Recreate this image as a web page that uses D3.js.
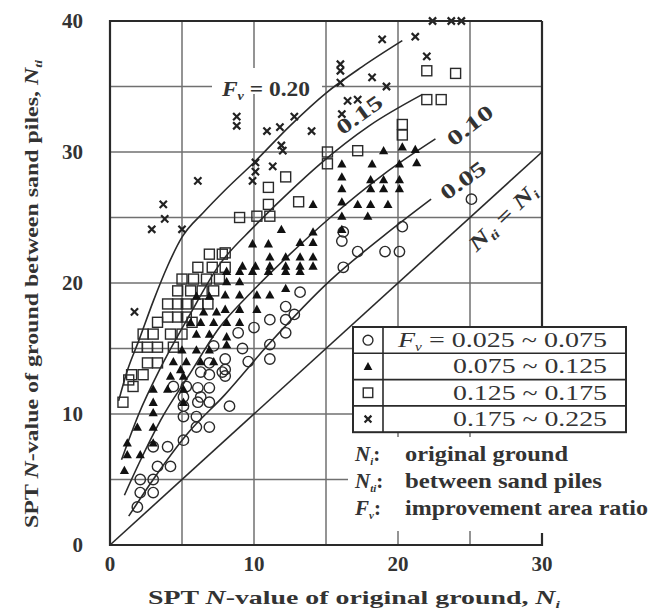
<!DOCTYPE html>
<html>
<head>
<meta charset="utf-8">
<script src="https://cdn.jsdelivr.net/npm/d3@7"></script>
<style>
  body { margin: 0; background: #fff; }
  svg { display: block; font-family: "Liberation Serif", "DejaVu Serif", serif; }
</style>
</head>
<body>
<div id="chart"></div>
<script>
// tick labels
var xTicks = [0, 10, 20, 30];
var yTicks = [0, 10, 20, 30, 40];
var gridStep = 5;

// legend rows
var legendLabels = ['0.025 ~ 0.075', '0.075 ~ 0.125', '0.125 ~ 0.175', '0.175 ~ 0.225'];
var legendSymbols = ['circle', 'triangle', 'square', 'cross'];

// points [N_i, N_ti]
var circles = [
    [25.1, 26.4], [20.3, 24.3], [19.1, 22.4], [20.1, 22.4], [16.2, 23.9], [16.1, 23.2],
    [17.2, 22.4], [16.2, 21.2], [13.2, 19.3], [12.2, 18.2], [12.2, 17.2], [12.2, 16.2],
    [11.1, 17.2], [11.1, 15.3], [11.1, 14.2], [8, 14.2], [8, 13.4], [8, 12.9],
    [6.9, 13.9], [6.9, 13], [7.8, 13.2], [6.1, 12], [6.9, 12], [6.1, 10.9], [6.9, 10.9],
    [6.3, 13.2], [4.4, 12.1], [5.3, 12.1], [5.1, 11.3], [6.3, 11.3], [5.1, 10.6],
    [8.3, 10.6], [5.1, 9.8], [6, 9.8], [6, 9], [6.9, 9], [5.1, 8], [3, 7.5], [4, 7.5],
    [3.3, 6], [4.2, 6], [2.1, 5], [3, 5], [2.1, 4], [3, 4], [1.9, 2.9],
    [7.2, 15.2], [8.9, 16.2], [9.2, 15], [10, 16.6], [12.8, 17.6], [9.6, 14]
];
var triangles = [
    [19, 30.1], [20.3, 30.4], [21.2, 30.2], [21.3, 29.2], [20.1, 29.1], [18.2, 29.1],
    [18.1, 27.9], [19, 27.9], [20.1, 27.9], [16.1, 28.1], [16.1, 27.2], [18.1, 27.2],
    [19, 27.2], [20.1, 27.2], [16.1, 26.2], [17.2, 26], [18.1, 26], [19.3, 26],
    [16.1, 25.1], [17.9, 25.1], [16.1, 24.1], [16.1, 29.1], [14.1, 26],
    [11.9, 24.1], [9.9, 23], [11, 23], [13.2, 23.1], [14.1, 23.9], [14.1, 23.1],
    [11.1, 22], [12.2, 22], [13.2, 22], [14.1, 22], [9.2, 21.3], [10.1, 21.3],
    [11.1, 21.3], [12.2, 21.3], [13.2, 21.3], [14.1, 21.3],
    [8.1, 20.9], [9, 20.9], [9.9, 20.9], [11, 20.9], [12.2, 20.9], [13.2, 20.9],
    [8.1, 20.1], [9, 20.1], [8, 19.1], [9, 19.1], [10.2, 19.1], [11.1, 19.1], [12.2, 19.6],
    [8, 18], [9, 18], [10.2, 18], [8.1, 17], [9, 17], [8.1, 15.9], [8.1, 15.3],
    [6, 19], [6.9, 19], [6.5, 17.8], [7.4, 17.8], [5.6, 17], [6.3, 17], [7.2, 17],
    [6, 16.1], [6.9, 16.1], [5, 14.9], [6, 14.9], [6.9, 14.9], [4.4, 14], [5.3, 14],
    [6.3, 14], [7.2, 14], [4.9, 13.4], [4.2, 12.9], [5.1, 12.9], [3, 11.9], [4, 11.9],
    [5.1, 11.9], [3, 10.9], [5.1, 10.9], [3, 10.1], [1.9, 9], [3, 9], [1.2, 7.8],
    [3, 7.8], [1.2, 6.9], [2.1, 6.9], [1, 5.7]
];
var squares = [
    [24, 36], [22, 36.2], [22, 34], [23, 34], [20.3, 32.1], [20.3, 31.3], [17.2, 30.1],
    [15.1, 30], [15.1, 29.1], [12.2, 28.1], [11, 27.3], [11, 26], [13.1, 26.2],
    [11.1, 25.1], [10.2, 25.1], [9, 25], [8, 22.3],
    [6.9, 22.2], [7.8, 22.2], [6.1, 21.2], [7.1, 21.2], [8, 21.2], [5, 20.3], [5.8, 20.3],
    [6.7, 20.3], [7.6, 20.3], [4.7, 19.4], [5.6, 19.4], [6.4, 19.4], [7.2, 19.4],
    [4, 18.4], [4.7, 18.4], [5.3, 18.4], [6.1, 18.4], [6.8, 18.4], [4, 17.4], [4.7, 17.4],
    [5.3, 17.4], [3.3, 17], [5.7, 17], [2.3, 16.1], [3, 16.1], [4.2, 16.1], [5, 16.1],
    [1.9, 15.1], [2.6, 15.1], [3.3, 15.1], [4.4, 15.1], [2.6, 13.9], [3.3, 13.9],
    [1.5, 13], [2.3, 13], [1.6, 12.1], [0.9, 10.9], [1.3, 12.6]
];
var crosses = [
    [1.7, 17.8], [2.9, 24.1], [3.8, 24.9], [3.7, 26], [5, 24.1], [6.1, 27.8],
    [8.8, 32.7], [8.8, 32], [9.9, 27.8], [10.1, 28.5], [10.1, 29.2], [11.3, 28.9],
    [11.9, 30.5], [12, 30.1], [10.9, 31.6], [11.8, 31.9], [12.8, 32.7], [14, 31.6],
    [16, 36.7], [16, 36.2], [16, 35.3], [16.5, 33.9], [16.1, 32.9], [17.2, 34],
    [18.2, 35.7], [19.2, 35], [18.9, 38.6], [21.2, 38.8], [22, 37.3],
    [22.4, 40], [23.7, 40], [24.4, 40]
];

// design curves for each F_v
var curve020 = [[0.6, 11], [1.2, 13.3], [2, 15.6], [3, 18.6], [4, 21.3], [5, 23.5], [6.5, 25.4],
    [8, 27.1], [10, 29.2], [12.5, 32], [15, 34.5], [17.5, 36.5], [20.3, 38.5]];
var curve015 = [[0.8, 6.5], [2, 10], [3.5, 13.5], [5.5, 17.5], [7.6, 21.4], [10, 24.3],
    [12.5, 27], [14.6, 29.1], [18, 32], [21.7, 34.4]];
var curve010 = [[1, 3.8], [2, 6.2], [3.5, 9.5], [5.5, 13], [7.6, 16.6], [10, 19.5],
    [12.5, 22.2], [15.3, 25], [19, 28.3], [22.6, 31]];
var curve005 = [[1.3, 2.2], [3, 5], [5.3, 8.4], [8, 11.5], [11, 15.3], [15.3, 20.2],
    [19, 23.6], [22.3, 26.4]];
var equalLine = [[0, 0], [30, 30]];

var W = 653, H = 616;
var svg = d3.select('#chart').append('svg')
    .attr('width', W)
    .attr('height', H);

var x = d3.scaleLinear().domain([0, 30]).range([110, 542]);
var y = d3.scaleLinear().domain([0, 40]).range([545, 21]);

var ink = '#2a2a2a';
var gridCol = '#707070';
var textCol = '#333';

// grid
var g = svg.append('g');
g.selectAll('.vgrid')
    .data(d3.range(gridStep, 30, gridStep))
    .enter().append('line')
    .attr('x1', function(d) { return x(d); })
    .attr('x2', function(d) { return x(d); })
    .attr('y1', y(40))
    .attr('y2', y(0))
    .attr('stroke', gridCol)
    .attr('stroke-width', 1.5);
g.selectAll('.hgrid')
    .data(d3.range(gridStep, 40, gridStep))
    .enter().append('line')
    .attr('x1', x(0))
    .attr('x2', x(30))
    .attr('y1', function(d) { return y(d); })
    .attr('y2', function(d) { return y(d); })
    .attr('stroke', gridCol)
    .attr('stroke-width', 1.5);

// curves
var line = d3.line()
    .x(function(d) { return x(d[0]); })
    .y(function(d) { return y(d[1]); })
    .curve(d3.curveMonotoneX);
[curve020, curve015, curve010, curve005, equalLine].forEach(function(c) {
    svg.append('path')
        .attr('d', line(c))
        .attr('fill', 'none')
        .attr('stroke', ink)
        .attr('stroke-width', 1.6);
});

// markers
function drawSymbol(sel, type, cx, cy, s) {
    if (type === 'circle') {
        sel.append('circle').attr('cx', cx).attr('cy', cy).attr('r', 5.2 * s)
            .attr('fill', 'none').attr('stroke', ink).attr('stroke-width', 1.4);
    } else if (type === 'square') {
        sel.append('rect').attr('x', cx - 5 * s).attr('y', cy - 5 * s)
            .attr('width', 10 * s).attr('height', 10 * s)
            .attr('fill', 'none').attr('stroke', ink).attr('stroke-width', 1.4);
    } else if (type === 'triangle') {
        var h = 4.6 * s;
        sel.append('path')
            .attr('d', 'M' + cx + ',' + (cy - h) + 'L' + (cx + h) + ',' + (cy + h * 0.8) +
                'L' + (cx - h) + ',' + (cy + h * 0.8) + 'Z')
            .attr('fill', '#111');
    } else {
        var c = 3.6 * s;
        sel.append('path')
            .attr('d', 'M' + (cx - c) + ',' + (cy - c) + 'L' + (cx + c) + ',' + (cy + c) +
                'M' + (cx + c) + ',' + (cy - c) + 'L' + (cx - c) + ',' + (cy + c))
            .attr('stroke', '#222').attr('stroke-width', 2.2);
    }
}

var markers = svg.append('g');
[[circles, 'circle'], [squares, 'square'], [triangles, 'triangle'], [crosses, 'cross']].forEach(function(set) {
    set[0].forEach(function(d) {
        drawSymbol(markers, set[1], x(d[0]), y(d[1]), 1);
    });
});

// white area behind notes (covers grid)
svg.append('rect')
    .attr('x', 348).attr('y', 437)
    .attr('width', W - 348).attr('height', 531 - 437)
    .attr('fill', '#fff');

// frame
svg.append('path')
    .attr('d', 'M' + x(30) + ',' + y(40) + 'H' + x(0) + 'V' + y(0) + 'H' + x(30) + 'V' + (y(0) - 12))
    .attr('fill', 'none').attr('stroke', ink).attr('stroke-width', 2.2);
svg.append('line')
    .attr('x1', x(30)).attr('x2', x(30))
    .attr('y1', y(40)).attr('y2', 330)
    .attr('stroke', ink).attr('stroke-width', 2.2);

// tick labels
svg.selectAll('.xt')
    .data(xTicks).enter().append('text')
    .attr('x', function(d) { return x(d); })
    .attr('y', 571)
    .attr('text-anchor', 'middle')
    .attr('font-size', 21).attr('font-weight', 'bold').attr('fill', textCol)
    .text(function(d) { return d; });
svg.selectAll('.yt')
    .data(yTicks).enter().append('text')
    .attr('x', 83)
    .attr('y', function(d) { return y(d) + 7; })
    .attr('text-anchor', 'end')
    .attr('font-size', 21).attr('font-weight', 'bold').attr('fill', textCol)
    .text(function(d) { return d; });

// axis titles
var xt = svg.append('text')
    .attr('x', 148).attr('y', 604)
    .attr('textLength', 412).attr('lengthAdjust', 'spacingAndGlyphs')
    .attr('font-size', 19).attr('font-weight', 'bold').attr('fill', textCol);
xt.append('tspan').text('SPT ');
xt.append('tspan').attr('font-style', 'italic').text('N');
xt.append('tspan').text('-value of original ground, ');
xt.append('tspan').attr('font-style', 'italic').text('N');
xt.append('tspan').attr('font-style', 'italic').attr('font-size', 11).attr('dy', 4).text('i');

var yt = svg.append('text')
    .attr('transform', 'translate(38,528) rotate(-90)')
    .attr('textLength', 468).attr('lengthAdjust', 'spacingAndGlyphs')
    .attr('font-size', 19).attr('font-weight', 'bold').attr('fill', textCol);
yt.append('tspan').text('SPT ');
yt.append('tspan').attr('font-style', 'italic').text('N');
yt.append('tspan').text('-value of ground between sand piles, ');
yt.append('tspan').attr('font-style', 'italic').text('N');
yt.append('tspan').attr('font-style', 'italic').attr('font-size', 11).attr('dy', 4).text('ti');

// curve labels
var lab = svg.append('g');
lab.append('rect')
    .attr('x', 212).attr('y', 68).attr('width', 110).attr('height', 26)
    .attr('fill', '#fff');
var f20 = lab.append('text')
    .attr('x', 222).attr('y', y(34.3))
    .attr('textLength', 88).attr('lengthAdjust', 'spacingAndGlyphs')
    .attr('font-size', 20).attr('font-weight', 'bold').attr('fill', textCol);
f20.append('tspan').attr('font-style', 'italic').text('F');
f20.append('tspan').attr('font-style', 'italic').attr('font-size', 12).attr('dy', 4).text('v');
f20.append('tspan').attr('dy', -4).text(' = 0.20');

function rotLabel(px, py, ang, len, txt) {
    return lab.append('text')
        .attr('transform', 'translate(' + px + ',' + py + ') rotate(' + ang + ')')
        .attr('x', -len / 2)
        .attr('textLength', len).attr('lengthAdjust', 'spacingAndGlyphs')
        .attr('font-size', 21).attr('font-weight', 'bold').attr('fill', textCol)
        .text(txt);
}
rotLabel(x(17.6), y(32.4), -36, 52, '0.15');
rotLabel(x(25.3), y(31.6), -38, 53, '0.10');
rotLabel(x(24.8), y(27.4), -36, 51, '0.05');
var eq = rotLabel(x(27.6), y(24.6), -44, 86, '');
eq.append('tspan').attr('font-style', 'italic').text('N');
eq.append('tspan').attr('font-style', 'italic').attr('font-size', 12).attr('dy', 4).text('ti');
eq.append('tspan').attr('dy', -4).text(' = ');
eq.append('tspan').attr('font-style', 'italic').text('N');
eq.append('tspan').attr('font-style', 'italic').attr('font-size', 12).attr('dy', 4).text('i');

// legend
var lg = svg.append('g');
var lx0 = 353, lx1 = 626, ly0 = 327, rowH = 26.3, colX = 383;
lg.append('rect')
    .attr('x', lx0).attr('y', ly0)
    .attr('width', lx1 - lx0).attr('height', rowH * 4)
    .attr('fill', '#fff').attr('stroke', ink).attr('stroke-width', 2);
lg.selectAll('.sep')
    .data([1, 2, 3]).enter().append('line')
    .attr('x1', lx0).attr('x2', lx1)
    .attr('y1', function(d) { return ly0 + d * rowH; })
    .attr('y2', function(d) { return ly0 + d * rowH; })
    .attr('stroke', ink).attr('stroke-width', 1.6);
lg.append('line')
    .attr('x1', colX).attr('x2', colX)
    .attr('y1', ly0).attr('y2', ly0 + rowH * 4)
    .attr('stroke', ink).attr('stroke-width', 1.6);
legendLabels.forEach(function(t, i) {
    var cy = ly0 + (i + 0.5) * rowH;
    drawSymbol(lg, legendSymbols[i], (lx0 + colX) / 2, cy, 0.95);
    var tx = lg.append('text')
        .attr('y', cy + 7)
        .attr('lengthAdjust', 'spacingAndGlyphs')
        .attr('font-size', 22).attr('fill', textCol);
    if (i === 0) {
        tx.attr('x', 398).attr('textLength', 209);
        tx.append('tspan').attr('font-style', 'italic').text('F');
        tx.append('tspan').attr('font-style', 'italic').attr('font-size', 12).attr('dy', 4).text('v');
        tx.append('tspan').attr('dy', -4).text(' = ' + t);
    } else {
        tx.attr('x', 453).attr('textLength', 154).text(t);
    }
});

// notes
var notes = [['i', 'original ground', 163], ['ti', 'between sand piles', 197], ['v', 'improvement area ratio', 243]];
notes.forEach(function(n, i) {
    var ty = 461 + i * 27;
    var t1 = svg.append('text')
        .attr('x', 355).attr('y', ty)
        .attr('font-size', 21).attr('font-weight', 'bold').attr('fill', textCol);
    t1.append('tspan').attr('font-style', 'italic').text(i === 2 ? 'F' : 'N');
    t1.append('tspan').attr('font-style', 'italic').attr('font-size', 11).attr('dy', 4).text(n[0]);
    t1.append('tspan').attr('dy', -4).text(':');
    svg.append('text')
        .attr('x', 405).attr('y', ty)
        .attr('textLength', n[2]).attr('lengthAdjust', 'spacingAndGlyphs')
        .attr('font-size', 21).attr('font-weight', 'bold').attr('fill', textCol)
        .text(n[1]);
});
</script>
</body>
</html>
